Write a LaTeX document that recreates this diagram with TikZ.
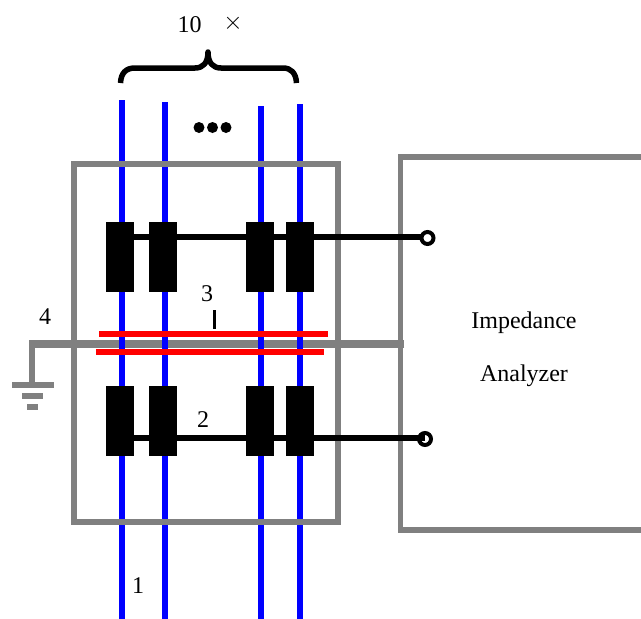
\documentclass[tikz,border=0pt]{standalone}
\usepackage{fontspec}
\setmainfont{Liberation Serif}
\tikzset{
  wire/.style={draw=blue,line width=5.6pt},
  frame/.style={draw=gray,line width=5.8pt},
  shield/.style={draw=red,line width=5.6pt},
  lead/.style={draw=black,line width=5.4pt},
  core/.style={fill=black,inner sep=0pt,minimum width=28pt,minimum height=70pt},
  terminal/.style={circle,draw=black,fill=white,line width=4pt,inner sep=0pt,minimum size=12pt},
  label/.style={font=\fontsize{24}{28}\selectfont,inner sep=0pt},
}

\begin{document}
\begin{tikzpicture}[x=1pt,y=-1pt]
  % bounding box
  \useasboundingbox (0,0) rectangle (641,619);
  % Analyzer
  \draw[frame] (641,157) -- (400.5,157) -- (400.5,530) -- (641,530);
  % Grounded line
  \draw[frame] (32,341) -- (32,385);
  \draw[frame,line width=7.8pt] (404,344) -- (29,344);
  \fill[gray] (12,382) rectangle (54,388);
  \fill[gray] (22,393) rectangle (43,399);
  \fill[gray] (27,404) rectangle (38,410);
  % Wires
  \draw[wire] (122,100) -- (122,619);
  \draw[wire] (165,102) -- (165,619);
  \draw[wire] (261,106) -- (261,619);
  \draw[wire] (300,104) -- (300,619);
  % Housing
  \draw[frame] (74,164) rectangle (338,522);
  % Red plates
  \draw[shield] (99,334) -- (327.5,334);
  \draw[shield] (96,352) -- (324,352);
  \draw[black,line width=3pt] (214,310) -- (214,329);
  % Cores
  \node[core] (topa) at (120,257) {};
  \node[core] (topb) at (163,257) {};
  \node[core] (topc) at (260,257) {};
  \node[core] (topd) at (300,257) {};
  \node[core] (bota) at (120,421) {};
  \node[core] (botb) at (163,421) {};
  \node[core] (botc) at (260,421) {};
  \node[core] (botd) at (300,421) {};
  % Terminals
  \node[terminal] (termtop) at (427.5,238) {};
  \node[terminal] (termbot) at (425,439) {};
  % Leads
  \coordinate (leadtop) at (120,237);
  \coordinate (endtop) at (421,237);
  \coordinate (leadbot) at (120,438);
  \draw[lead] (leadtop) -- (endtop);
  \draw[lead] (leadbot) -- (termbot.center |- leadbot);
  % Brace
  \draw[line width=5.5pt,line join=round] (120.5,83) .. controls (121,73) and (126,68) .. (135,68)
    -- (195,68) .. controls (203,68) and (208,63) .. (208,52)
    .. controls (208,63) and (213,68) .. (221,68)
    -- (283,68) .. controls (291,68) and (296,73) .. (296.5,83);
  % Dots
  \fill (199,127.5) circle (5.5);
  \fill (212.5,127.5) circle (5.5);
  \fill (226,127.5) circle (5.5);
  % Labels
  \node[label] (times) at (189.5,25) {10};
  \node[label,font=\fontsize{36}{36}\selectfont] (cross) at (233,23) {$\times$};
  \node[label] (one) at (138,586) {1};
  \node[label] (two) at (203,419.5) {2};
  \node[label] (three) at (207,293.5) {3};
  \node[label] (four) at (45,316.5) {4};
  \node[label] (imp) at (524,322.5) {Impedance};
  \node[label] (ana) at (524,375.5) {Analyzer};
\end{tikzpicture}
\end{document}
